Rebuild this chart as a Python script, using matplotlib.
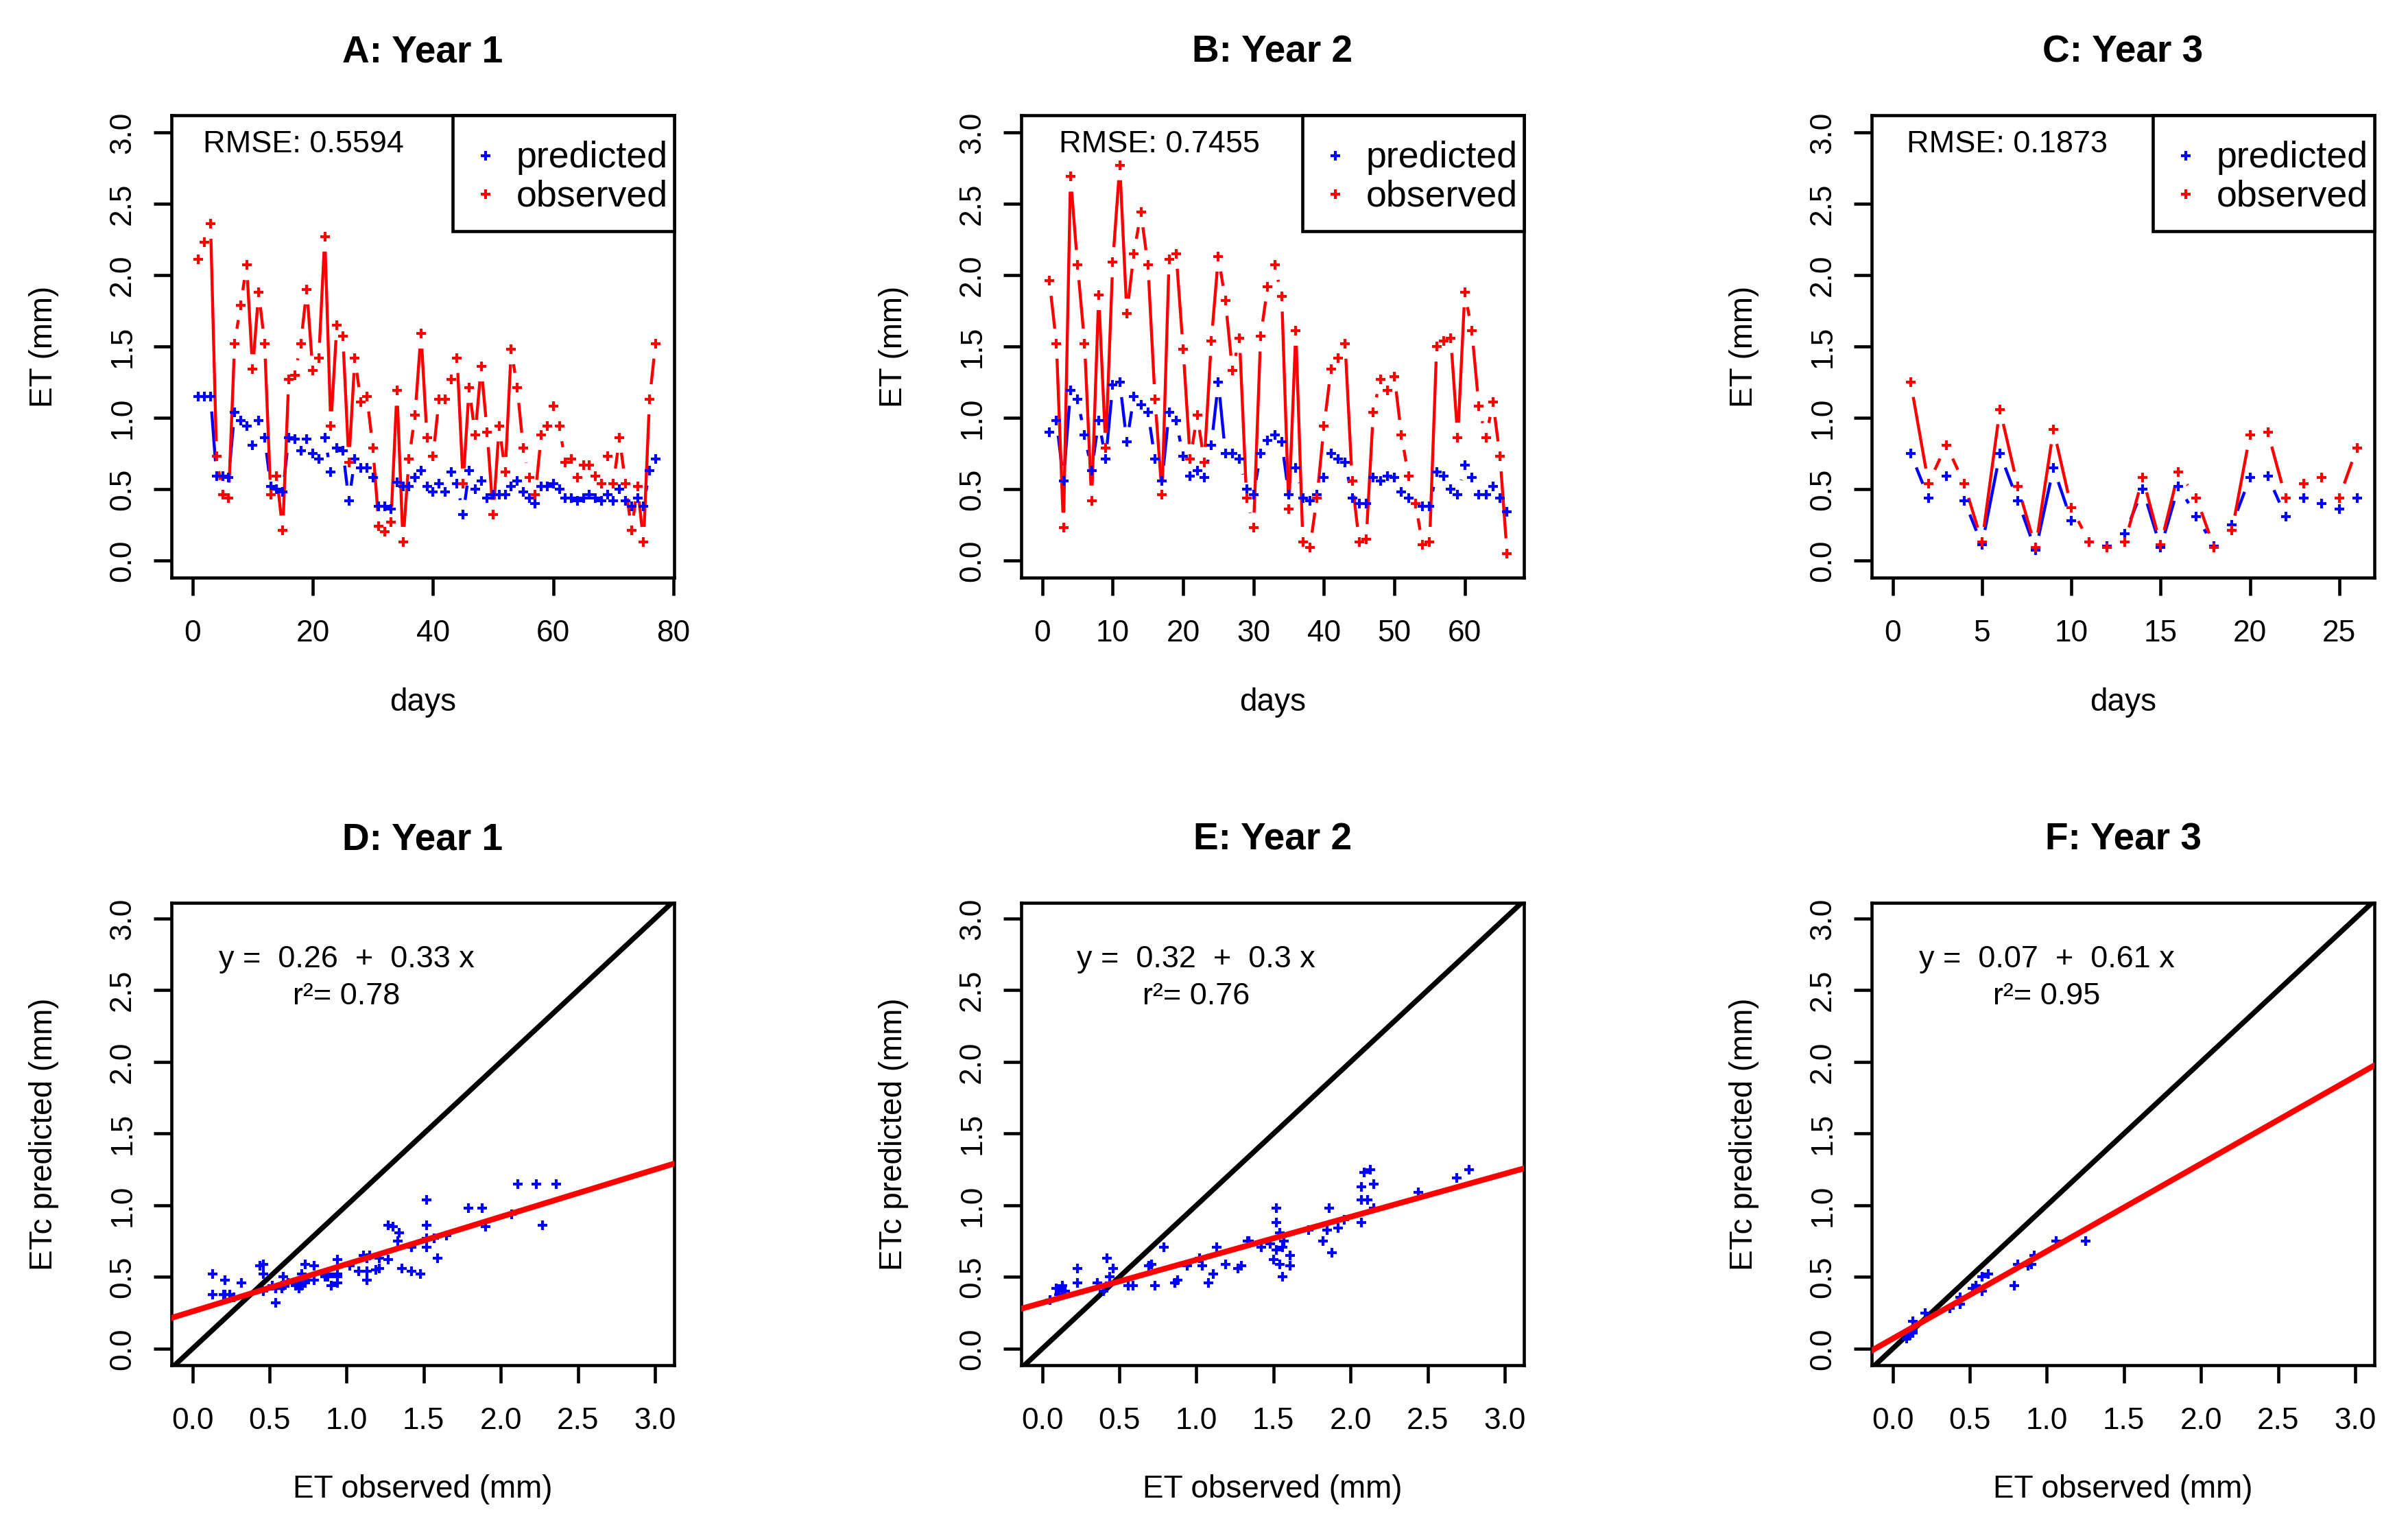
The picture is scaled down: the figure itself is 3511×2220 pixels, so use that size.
import numpy as np
import matplotlib
matplotlib.use("Agg")
import matplotlib.pyplot as plt
from matplotlib.collections import LineCollection
from matplotlib.patches import Rectangle

plt.rcParams['font.family'] = ['Liberation Sans', 'DejaVu Sans']

# ---------------- data ----------------
obs1 = [2.11, 2.23, 2.36, 0.73, 0.46, 0.44, 1.52, 1.79, 2.07, 1.34,
        1.88, 1.52, 0.46, 0.59, 0.21, 1.27, 1.30, 1.52, 1.90, 1.33,
        1.42, 2.27, 0.94, 1.65, 1.57, 0.69, 1.42, 1.11, 1.15, 0.79,
        0.24, 0.20, 0.27, 1.19, 0.13, 0.71, 1.02, 1.59, 0.86, 0.73,
        1.13, 1.13, 1.27, 1.42, 0.54, 1.21, 0.88, 1.36, 0.90, 0.32,
        0.94, 0.62, 1.48, 1.21, 0.79, 0.58, 0.46, 0.88, 0.94, 1.08,
        0.94, 0.69, 0.71, 0.58, 0.67, 0.67, 0.59, 0.54, 0.73, 0.54,
        0.86, 0.54, 0.21, 0.52, 0.13, 1.13, 1.52]
pred1 = [1.15, 1.15, 1.15, 0.59, 0.59, 0.58, 1.04, 0.98, 0.94, 0.81,
         0.98, 0.86, 0.52, 0.50, 0.48, 0.86, 0.85, 0.77, 0.85, 0.75,
         0.71, 0.86, 0.62, 0.79, 0.77, 0.42, 0.71, 0.65, 0.65, 0.58,
         0.38, 0.38, 0.36, 0.55, 0.52, 0.52, 0.58, 0.63, 0.52, 0.48,
         0.54, 0.48, 0.62, 0.54, 0.32, 0.63, 0.50, 0.56, 0.44, 0.46,
         0.46, 0.46, 0.52, 0.56, 0.48, 0.44, 0.40, 0.52, 0.52, 0.54,
         0.50, 0.44, 0.44, 0.42, 0.44, 0.46, 0.44, 0.42, 0.46, 0.42,
         0.50, 0.42, 0.38, 0.44, 0.38, 0.63, 0.71]

obs2 = [1.96, 1.52, 0.23, 2.69, 2.07, 1.52, 0.42, 1.86, 0.79, 2.09,
        2.77, 1.73, 2.15, 2.44, 2.07, 1.13, 0.46, 2.11, 2.15, 1.48,
        0.71, 1.02, 0.69, 1.54, 2.13, 1.82, 1.33, 1.56, 0.44, 0.23,
        1.57, 1.92, 2.07, 1.85, 0.36, 1.61, 0.13, 0.09, 0.44, 0.94,
        1.34, 1.42, 1.52, 0.56, 0.13, 0.15, 1.04, 1.27, 1.19, 1.29,
        0.88, 0.59, 0.40, 0.11, 0.13, 1.50, 1.54, 1.56, 0.86, 1.88,
        1.61, 1.08, 0.86, 1.11, 0.73, 0.05]
pred2 = [0.90, 0.98, 0.56, 1.19, 1.13, 0.88, 0.63, 0.98, 0.71, 1.23,
         1.25, 0.83, 1.15, 1.09, 1.04, 0.71, 0.56, 1.04, 0.98, 0.73,
         0.59, 0.63, 0.58, 0.81, 1.25, 0.75, 0.75, 0.71, 0.50, 0.46,
         0.75, 0.84, 0.88, 0.83, 0.46, 0.65, 0.44, 0.42, 0.46, 0.58,
         0.75, 0.71, 0.69, 0.44, 0.40, 0.40, 0.58, 0.56, 0.59, 0.58,
         0.48, 0.44, 0.40, 0.38, 0.38, 0.62, 0.59, 0.50, 0.46, 0.67,
         0.58, 0.46, 0.46, 0.52, 0.44, 0.34]

obs3 = [1.25, 0.54, 0.81, 0.54, 0.13, 1.06, 0.52, 0.09, 0.92, 0.37,
        0.13, 0.09, 0.13, 0.58, 0.11, 0.62, 0.44, 0.09, 0.21, 0.88,
        0.90, 0.44, 0.54, 0.58, 0.44, 0.79]
pred3 = [0.75, 0.44, 0.59, 0.42, 0.11, 0.75, 0.42, 0.07, 0.65, 0.28,
         0.13, 0.10, 0.19, 0.50, 0.09, 0.52, 0.31, 0.10, 0.25, 0.58,
         0.59, 0.31, 0.44, 0.40, 0.36, 0.44]

rmse = ["0.5594", "0.7455", "0.1873"]
intercepts = [0.26, 0.32, 0.07]
slopes = [0.33, 0.3, 0.61]
r2 = [0.78, 0.76, 0.95]
eq_int_txt = ["0.26", "0.32", "0.07"]
eq_slope_txt = ["0.33", "0.3", "0.61"]

top_titles = ["A: Year 1", "B: Year 2", "C: Year 3"]
bottom_titles = ["D: Year 1", "E: Year 2", "F: Year 3"]
top_xticks = [[0, 20, 40, 60, 80], [0, 10, 20, 30, 40, 50, 60], [0, 5, 10, 15, 20, 25]]
top_xlims = [(-3.5, 80.1), (-3.0, 68.4), (-1.18, 26.97)]
et_ticks = [0.0, 0.5, 1.0, 1.5, 2.0, 2.5, 3.0]
rmse_xpos = [0.2625, 0.275, 0.269]

observed = [obs1, obs2, obs3]
predicted = [pred1, pred2, pred3]

# ---------------- figure ----------------
W, H, DPI = 3511, 2220, 300
fig = plt.figure(figsize=(W / DPI, H / DPI), dpi=DPI)

lefts = [250 / W, 1489 / W, 2729 / W]
aw = 733 / W
ah = 674 / H
top_bottom = 1 - 842 / H
bot_bottom = 1 - 1990 / H

GAP = 22  # pixels, R type="b" gap
FS_TICK = 10.6
FS_LAB = 11.0
FS_TITLE = 13.2
FS_TXT = 10.8
FS_LEG = 12.9
MS = 3.2
MEW = 1.0
SERIES_LW = 1.05


def style_axes(ax):
    for s in ax.spines.values():
        s.set_linewidth(1.1)
    ax.tick_params(direction='out', length=6.2, width=1.1, labelsize=FS_TICK, pad=8.5)
    ax.tick_params(axis='y', pad=6)
    ax.set_yticks(et_ticks)
    ax.set_yticklabels([f"{v:.1f}" for v in et_ticks], rotation=90, va='center')


def b_lines(ax, x, y, color, lw=SERIES_LW):
    xy = ax.transData.transform(np.column_stack([x, y]))
    segs = []
    for (x0, y0), (x1, y1) in zip(xy[:-1], xy[1:]):
        dx, dy = x1 - x0, y1 - y0
        L = np.hypot(dx, dy)
        if L > 2 * GAP:
            ux, uy = dx / L, dy / L
            segs.append([(x0 + ux * GAP, y0 + uy * GAP), (x1 - ux * GAP, y1 - uy * GAP)])
    inv = ax.transData.inverted()
    segs = [inv.transform(np.array(s)) for s in segs]
    ax.add_collection(LineCollection(segs, colors=color, linewidths=lw, zorder=2))


for i in range(3):
    obs = np.array(observed[i])
    pred = np.array(predicted[i])
    days = np.arange(1, len(obs) + 1)

    # ---- top: time series ----
    ax = fig.add_axes([lefts[i], top_bottom, aw, ah])
    ax.set_xlim(*top_xlims[i])
    ax.set_ylim(-0.12, 3.12)
    style_axes(ax)
    ax.set_xticks(top_xticks[i])
    b_lines(ax, days, pred, 'blue')
    ax.plot(days, pred, linestyle='none', marker='+', ms=MS, mew=MEW, color='blue', zorder=3)
    b_lines(ax, days, obs, 'red')
    ax.plot(days, obs, linestyle='none', marker='+', ms=MS, mew=MEW, color='red', zorder=3)
    ax.set_title(top_titles[i], fontsize=FS_TITLE, fontweight='bold', pad=18.7)
    ax.set_xlabel("days", fontsize=FS_LAB)
    ax.set_ylabel("ET (mm)", fontsize=FS_LAB)
    ax.xaxis.set_label_coords(0.5, -0.27)
    ax.xaxis.label.set_va('center')
    ax.yaxis.set_label_coords(-0.254, 0.5)
    ax.yaxis.label.set_va('center')
    ax.text(rmse_xpos[i], 0.9195, f"RMSE: {rmse[i]}", transform=ax.transAxes,
            ha='center', va='baseline', fontsize=FS_TXT)
    # legend box (R style)
    ax.add_patch(Rectangle((0.559, 0.75), 0.441, 0.25, transform=ax.transAxes,
                           facecolor='white', edgecolor='black', linewidth=1.1,
                           zorder=5, clip_on=False))
    ax.plot([0.625], [0.913], transform=ax.transAxes, marker='+', ms=MS, mew=MEW,
            color='blue', linestyle='none', zorder=6, clip_on=False)
    ax.plot([0.625], [0.829], transform=ax.transAxes, marker='+', ms=MS, mew=MEW,
            color='red', linestyle='none', zorder=6, clip_on=False)
    ax.text(0.686, 0.887, "predicted", transform=ax.transAxes, ha='left',
            va='baseline', fontsize=FS_LEG, zorder=6)
    ax.text(0.686, 0.803, "observed", transform=ax.transAxes, ha='left',
            va='baseline', fontsize=FS_LEG, zorder=6)

    # ---- bottom: scatter ----
    bx = fig.add_axes([lefts[i], bot_bottom, aw, ah])
    bx.set_xlim(-0.136, 3.125)
    bx.set_ylim(-0.115, 3.11)
    style_axes(bx)
    bx.set_xticks(et_ticks)
    bx.set_xticklabels([f"{v:.1f}" for v in et_ticks])
    bx.axline((0, 0), slope=1, color='black', lw=1.8, zorder=2)
    bx.axline((0, intercepts[i]), slope=slopes[i], color='red', lw=2.0, zorder=3)
    bx.plot(obs, pred, linestyle='none', marker='+', ms=MS, mew=MEW, color='blue', zorder=2.5)
    bx.set_title(bottom_titles[i], fontsize=FS_TITLE, fontweight='bold', pad=18.7)
    bx.set_xlabel("ET observed (mm)", fontsize=FS_LAB)
    bx.set_ylabel("ETc predicted (mm)", fontsize=FS_LAB)
    bx.xaxis.set_label_coords(0.5, -0.268)
    bx.xaxis.label.set_va('center')
    bx.yaxis.set_label_coords(-0.254, 0.5)
    bx.yaxis.label.set_va('center')
    bx.text(1.0, 2.66, f"y =  {eq_int_txt[i]}  +  {eq_slope_txt[i]} x",
            ha='center', va='baseline', fontsize=FS_TXT)
    bx.text(1.0, 2.40, f"r\u00b2= {r2[i]:.2f}", ha='center', va='baseline', fontsize=FS_TXT)

fig.savefig("out.png", dpi=DPI)
